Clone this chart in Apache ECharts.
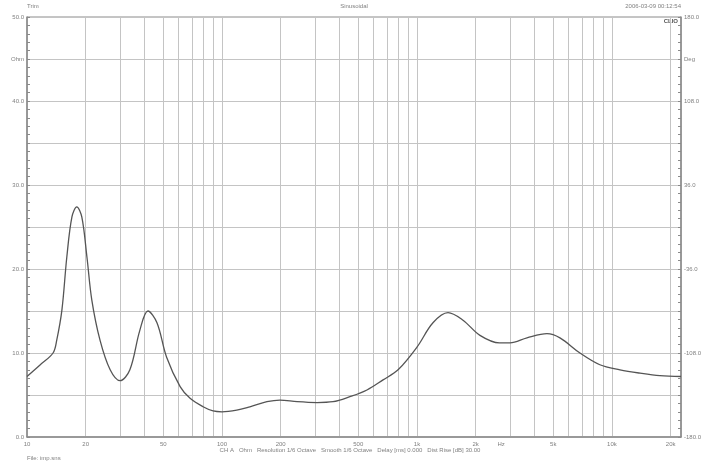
<!DOCTYPE html>
<html><head><meta charset="utf-8">
<script src="https://cdn.jsdelivr.net/npm/echarts@6/dist/echarts.min.js"></script>
<style>html,body{margin:0;padding:0;background:#fff}#c{width:708px;height:469px}</style>
</head><body><div id="c"></div>
<script>
// Frequency (Hz) and impedance magnitude (Ohm)
const freqs = [10, 11.7, 13.6, 14.2, 15.1, 16.0, 17.0, 18.0, 19.1, 20.3, 21.5, 23.7, 26.7, 30, 33.7, 37.9, 41.7, 46.4, 52, 61, 68.6, 80, 90, 100, 119, 139, 170, 198, 243, 307, 371, 453, 554, 670, 800, 1000, 1208, 1443, 1722, 2104, 2650, 3000, 3664, 4642, 5410, 6852, 8670, 10990, 13930, 17620, 22600];
const ohms  = [7.2, 8.6, 10.0, 11.5, 15.1, 21.4, 26.2, 27.4, 26.2, 21.4, 16.3, 11.5, 8.0, 6.7, 8.0, 12.7, 15.0, 13.6, 9.5, 6.0, 4.6, 3.6, 3.1, 3.0, 3.2, 3.6, 4.2, 4.4, 4.2, 4.1, 4.2, 4.8, 5.6, 6.8, 8.0, 10.7, 13.6, 14.8, 13.9, 12.1, 11.2, 11.2, 11.8, 12.3, 11.8, 10.0, 8.6, 8.0, 7.6, 7.3, 7.2];
const xGridValues = [20,30,40,50,60,70,80,90,100,200,300,400,500,600,700,800,900,1000,2000,3000,4000,5000,6000,7000,8000,9000,10000,20000];
const xLabelValues = [10, 20, 50, 100, 200, 500, 1000, 2000, 2700, 5000, 10000, 20000];
const xLabelText = {10:'10',20:'20',50:'50',100:'100',200:'200',500:'500',1000:'1k',2000:'2k',2700:'Hz',5000:'5k',10000:'10k',20000:'20k'};
const titleLeft = 'Trim';
const titleCenter = 'Sinusoidal';
const titleRight = '2006-03-09 00:12:54';
const footer = 'CH A   Ohm   Resolution 1/6 Octave   Smooth 1/6 Octave   Delay [ms] 0.000   Dist Rise [dB] 30.00';
const fileText = 'File: imp.sns';

const FONT = 'Liberation Sans, Arial, sans-serif';
const TXT = '#808080';
const GRIDC = '#c4c4c4';
const chart = echarts.init(document.getElementById('c'), null, {renderer: 'canvas'});
const data = freqs.map((f, i) => [f, ohms[i]]);
chart.setOption({
  animation: false,
  backgroundColor: '#fff',
  grid: {left: 27, right: 27, top: 17, bottom: 32, show: true, borderColor: '#8a8a8a', borderWidth: 1, backgroundColor: 'transparent'},
  xAxis: [{
    type: 'log', logBase: 10, min: 10, max: 22600,
    axisLine: {show: true, lineStyle: {color: '#8a8a8a', width: 1.5}},
    axisTick: {show: false, customValues: xGridValues},
    axisLabel: {show: false},
    splitLine: {show: true, lineStyle: {color: GRIDC, width: 1}},
    minorTick: {show: false}, minorSplitLine: {show: false}
  }, {
    type: 'log', logBase: 10, min: 10, max: 22600, position: 'bottom',
    axisLine: {show: false}, axisTick: {show: false},
    axisLabel: {show: true, customValues: xLabelValues, fontSize: 6, color: TXT, fontFamily: FONT, margin: 4,
      formatter: v => xLabelText[Math.round(v)] || ''},
    splitLine: {show: false}
  }],
  yAxis: [{
    type: 'value', min: 0, max: 50, interval: 5, position: 'left',
    axisLine: {show: true, lineStyle: {color: '#8a8a8a', width: 1.5}},
    axisTick: {show: true, inside: true, length: 3, lineStyle: {color: '#8a8a8a'}},
    minorTick: {show: true, splitNumber: 5, length: 3, lineStyle: {color: '#8a8a8a'}},
    axisLabel: {fontSize: 6, color: TXT, fontFamily: FONT, margin: 3,
      formatter: v => (v % 10 === 0 ? v.toFixed(1) : (v === 45 ? 'Ohm' : ''))},
    splitLine: {show: true, lineStyle: {color: GRIDC, width: 1}}
  }, {
    type: 'value', min: -180, max: 180, interval: 36, position: 'right',
    axisLine: {show: true, lineStyle: {color: '#8a8a8a', width: 1.5}},
    axisTick: {show: true, inside: true, length: 3, lineStyle: {color: '#8a8a8a'}},
    minorTick: {show: true, splitNumber: 5, length: 3, lineStyle: {color: '#8a8a8a'}},
    axisLabel: {fontSize: 6, color: TXT, fontFamily: FONT, margin: 3,
      formatter: v => ((Math.round(v) + 180) % 72 === 0 ? v.toFixed(1) : (Math.round(v) === 144 ? 'Deg' : ''))},
    splitLine: {show: false}
  }],
  series: [{
    type: 'line', xAxisIndex: 0, yAxisIndex: 0, data: data,
    smooth: 0.35, symbol: 'none', lineStyle: {color: '#555', width: 1.3}, z: 5
  }],
  graphic: [
    {type: 'text', left: 27, top: 3, style: {text: titleLeft, fontSize: 6, fill: TXT, fontFamily: FONT}},
    {type: 'text', left: 'center', top: 3, style: {text: titleCenter, fontSize: 6, fill: TXT, fontFamily: FONT}},
    {type: 'text', right: 27, top: 3, style: {text: titleRight, fontSize: 6, fill: TXT, fontFamily: FONT}},
    {type: 'text', right: 30, top: 18, style: {text: 'CLIO', fontSize: 6, fontWeight: 'bold', fill: '#555', fontFamily: FONT}},
    {type: 'text', x: 350, y: 447, style: {text: footer, fontSize: 6, fill: TXT, fontFamily: FONT, align: 'center'}},
    {type: 'text', left: 27, top: 455, style: {text: fileText, fontSize: 6, fill: TXT, fontFamily: FONT}}
  ]
});
</script></body></html>
